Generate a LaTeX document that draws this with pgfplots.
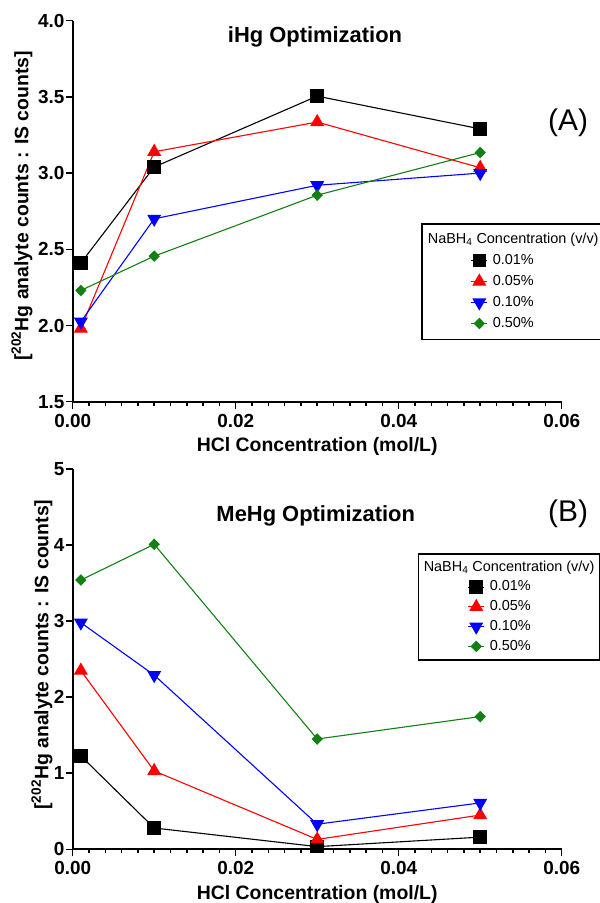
\documentclass[border=0pt]{standalone}
\usepackage{pgfplots}
\pgfplotsset{compat=1.18}
\usepackage{fontspec}
\setmainfont{Liberation Sans}
\definecolor{pgreen}{RGB}{20,128,20}
\begin{document}
\begin{tikzpicture}
\path[use as bounding box] (0,0) rectangle (600bp,903bp);
\pgfplotsset{
 myaxis/.style={
  scale only axis, width=489bp, clip=false,
  xmin=0, xmax=0.06, xtick={0,0.02,0.04,0.06}, minor x tick num=9,
  axis x line*=bottom, axis y line*=left,
  axis line style={line width=2bp, -},
  tick align=outside,
  major tick length=7bp, minor tick length=4bp,
  every tick/.style={black, line width=1.5bp},
  x tick label style={yshift=-4bp, /pgf/number format/fixed, /pgf/number format/fixed zerofill, /pgf/number format/precision=2},
  scaled x ticks=false, scaled y ticks=false,
  ticklabel style={font=\fontsize{19}{22}\selectfont\bfseries, inner sep=1bp},
  /pgf/number format/assume math mode=true,
  xlabel={HCl Concentration (mol/L)},
  ylabel={[\textsuperscript{202}Hg analyte counts : IS counts]},
  label style={font=\fontsize{19.5}{22}\selectfont\bfseries},
  xlabel style={at={(axis description cs:0.5,0)}, anchor=center, yshift=-45bp},
  legend cell align=left,
  legend image code/.code={
    \path (-53bp,0) (8bp,0);
    \draw[mark=none] (-8bp,0) -- (8bp,0);
    \draw plot coordinates {(0,0)};
  },
 },
 sA/.style={black, line width=1.1bp, mark=square*, mark size=6.2bp},
 sB/.style={red, line width=1.1bp, mark=triangle*, mark size=7bp},
 sC/.style={blue, line width=1.1bp, mark=triangle*, mark size=7bp, mark options={rotate=180}},
 sD/.style={pgreen, line width=1.1bp, mark=diamond*, mark size=5bp, mark options={xscale=1.3}},
}
% ---------- top (A)
\begin{axis}[myaxis,
  at={(72.7bp,501.3bp)}, anchor=south west, height=381bp,
  ymin=1.5, ymax=4, ytick={1.5,2,2.5,3,3.5,4},
  y tick label style={/pgf/number format/fixed, /pgf/number format/fixed zerofill, /pgf/number format/precision=1},
  ylabel style={at={(axis description cs:-0.1037,0.514)}, anchor=center},
  legend style={at={(0.7123,0.469)}, anchor=north west,
    draw=black, line width=1.5bp, inner xsep=4bp, inner ysep=8bp,
    font=\fontsize{14.5}{17}\selectfont,
    nodes={inner sep=1bp, text height=10.5bp, text depth=3bp},
    /tikz/column sep=4bp, /tikz/row sep=5.5bp},
]
\addlegendimage{empty legend}
\addlegendentry{\hspace*{-65bp}NaBH\textsubscript{4} Concentration (v/v)}
\addplot[sA] coordinates {(0.001,2.41) (0.01,3.04) (0.03,3.505) (0.05,3.29)};
\addlegendentry{0.01\%}
\addplot[sB] coordinates {(0.001,1.98) (0.01,3.14) (0.03,3.335) (0.05,3.035)};
\addlegendentry{0.05\%}
\addplot[sC] coordinates {(0.001,2.025) (0.01,2.70) (0.03,2.92) (0.05,3.00)};
\addlegendentry{0.10\%}
\addplot[sD] coordinates {(0.001,2.23) (0.01,2.455) (0.03,2.855) (0.05,3.135)};
\addlegendentry{0.50\%}
\node[font=\fontsize{22}{25}\selectfont\bfseries] at (rel axis cs:0.4955,0.957) {iHg Optimization};
\node[font=\fontsize{30}{34}\selectfont] at (rel axis cs:1.013,0.7315) {(A)};
\end{axis}
% ---------- bottom (B)
\begin{axis}[myaxis,
  at={(72.7bp,53.7bp)}, anchor=south west, height=380.3bp,
  ymin=0, ymax=5, ytick={0,1,2,3,4,5},
  ylabel style={at={(axis description cs:-0.0628,0.512)}, anchor=center},
  legend style={at={(0.706,0.779)}, anchor=north west,
    draw=black, line width=1.5bp, inner xsep=4bp, inner ysep=6bp,
    font=\fontsize{14.5}{17}\selectfont,
    nodes={inner sep=1bp, text height=10.5bp, text depth=3bp},
    /tikz/column sep=4bp, /tikz/row sep=4.2bp},
]
\addlegendimage{empty legend}
\addlegendentry{\hspace*{-66bp}NaBH\textsubscript{4} Concentration (v/v)}
\addplot[sA] coordinates {(0.001,1.227) (0.01,0.28) (0.03,0.035) (0.05,0.16)};
\addlegendentry{0.01\%}
\addplot[sB] coordinates {(0.001,2.35) (0.01,1.03) (0.03,0.13) (0.05,0.45)};
\addlegendentry{0.05\%}
\addplot[sC] coordinates {(0.001,2.98) (0.01,2.29) (0.03,0.33) (0.05,0.61)};
\addlegendentry{0.10\%}
\addplot[sD] coordinates {(0.001,3.54) (0.01,4.01) (0.03,1.45) (0.05,1.745)};
\addlegendentry{0.50\%}
\node[font=\fontsize{22}{25}\selectfont\bfseries] at (rel axis cs:0.497,0.876) {MeHg Optimization};
\node[font=\fontsize{30}{34}\selectfont] at (rel axis cs:1.013,0.882) {(B)};
\end{axis}
\end{tikzpicture}
\end{document}
